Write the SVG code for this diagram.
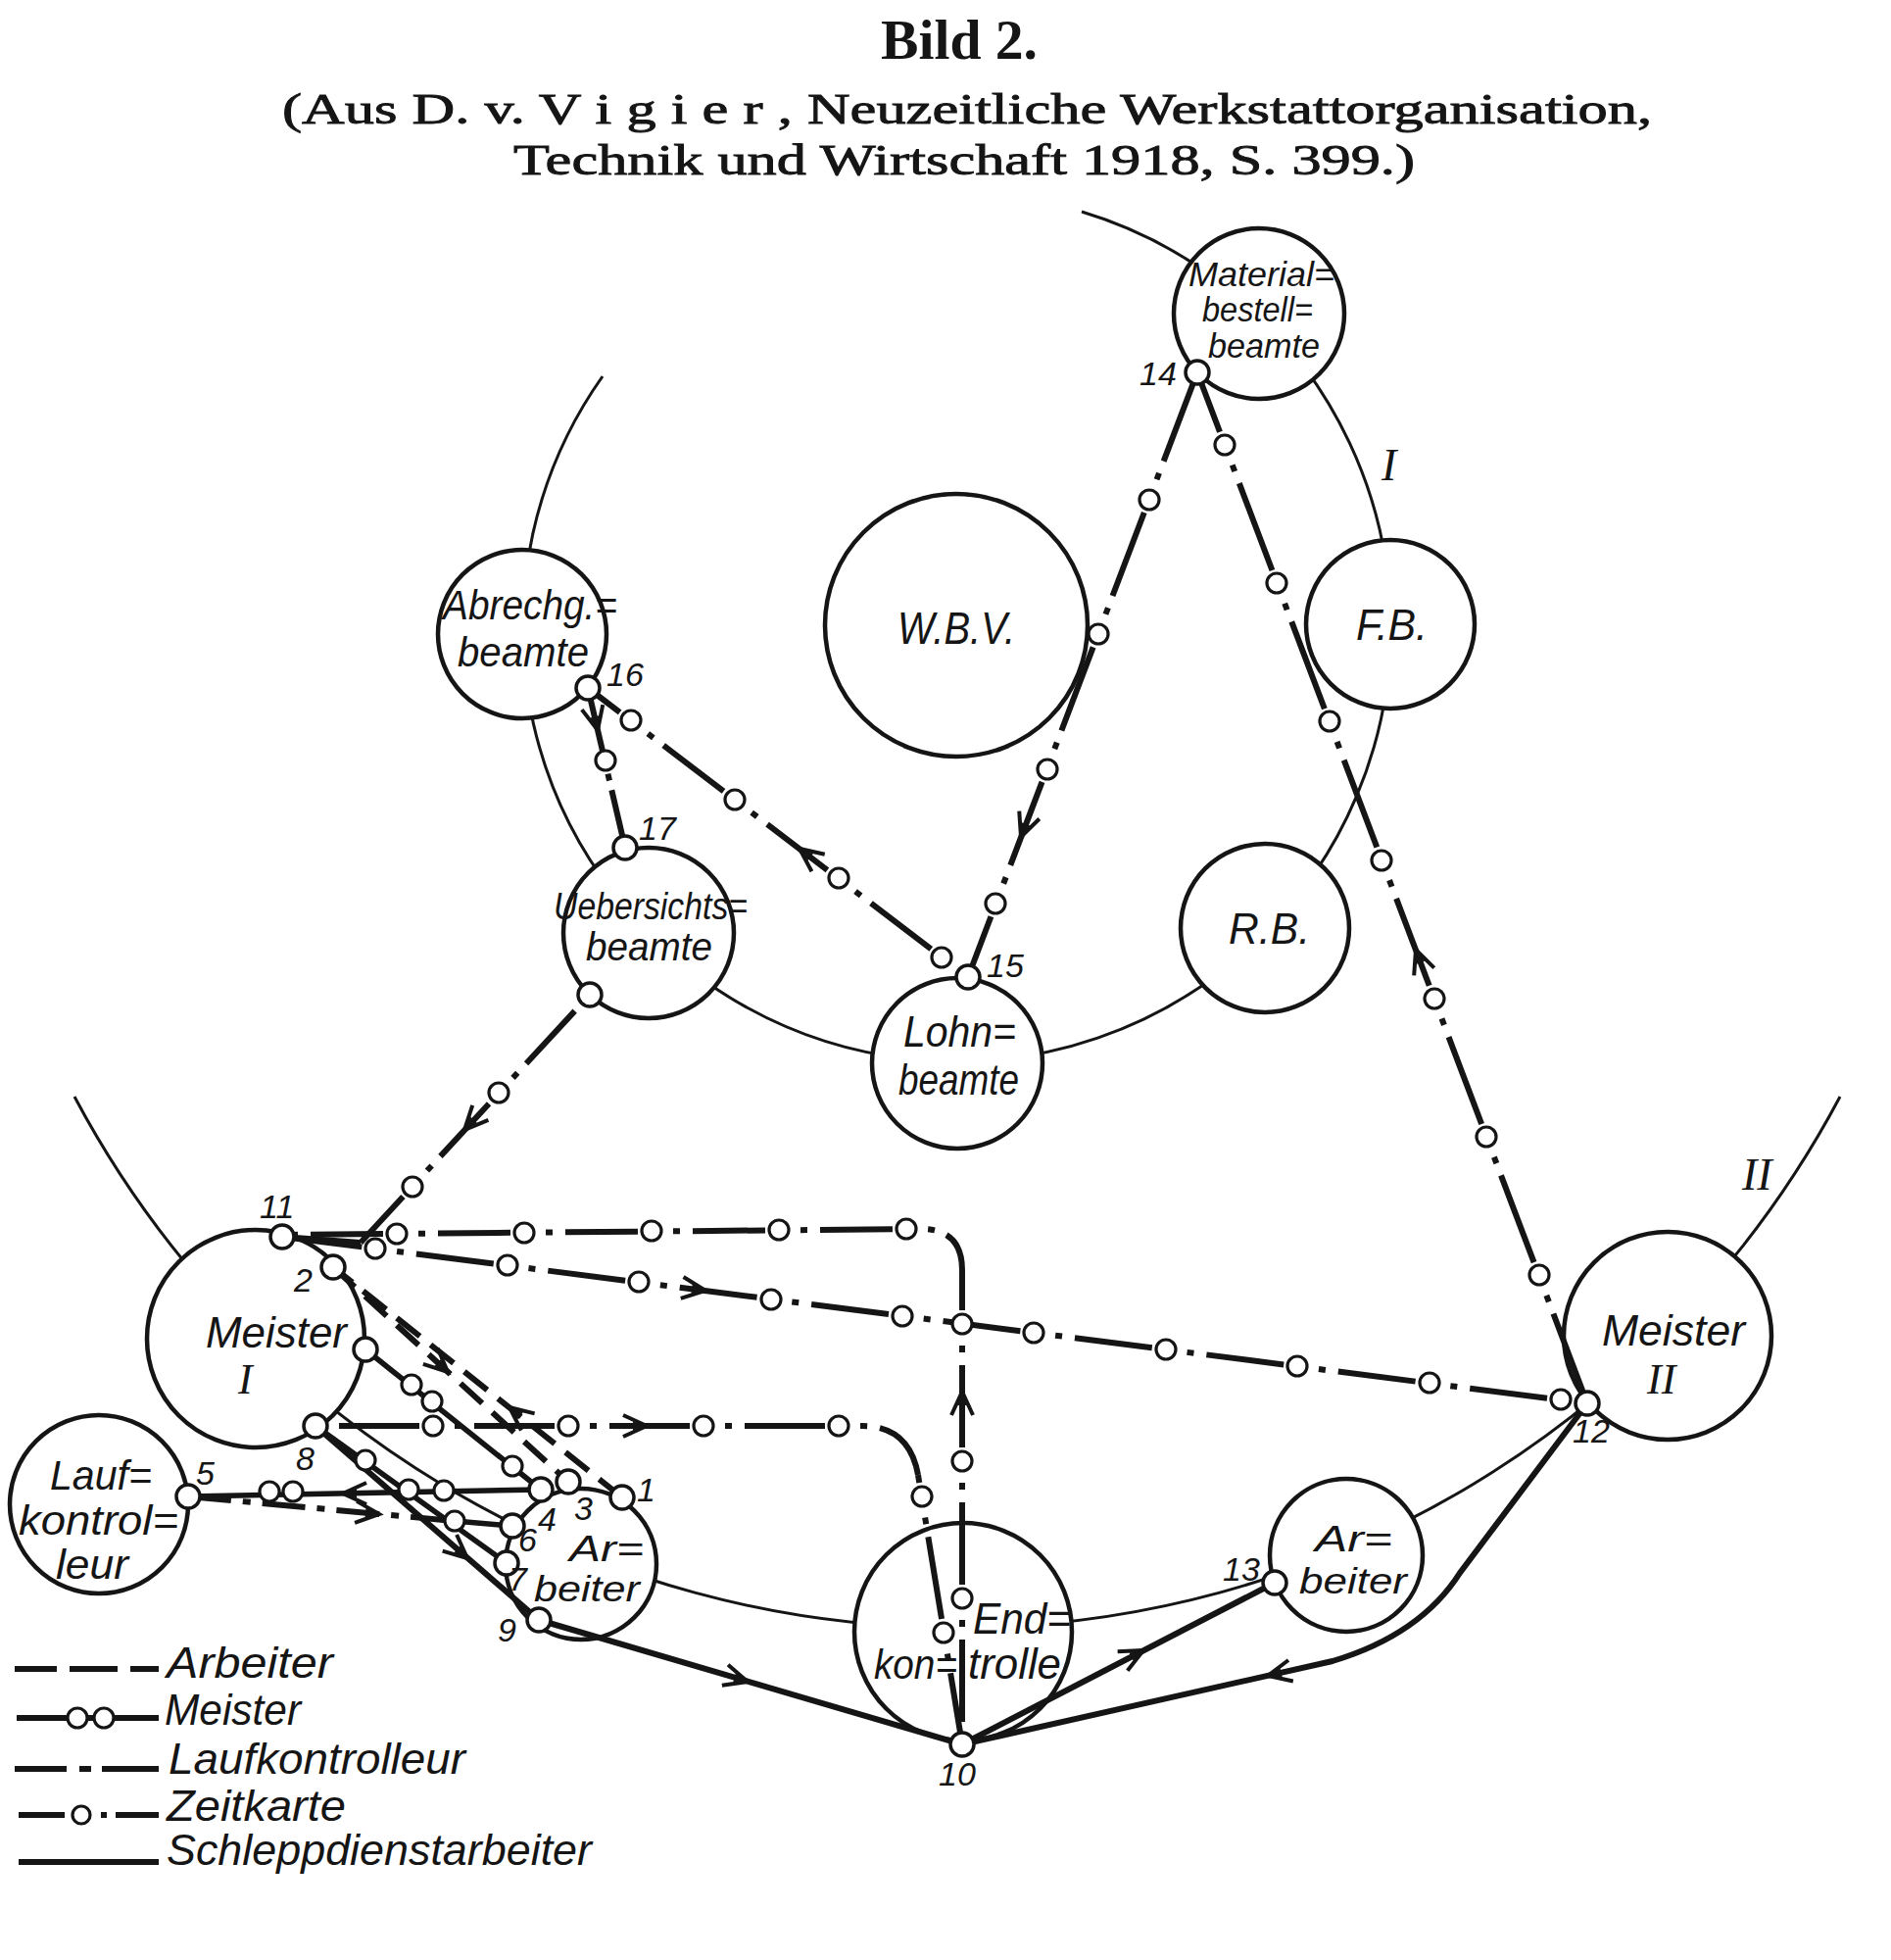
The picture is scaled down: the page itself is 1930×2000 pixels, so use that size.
<svg xmlns="http://www.w3.org/2000/svg" width="1930" height="2000" viewBox="0 0 1930 2000">
<style>
.ring{fill:none;stroke:#151515;stroke-width:3}
.node{fill:#fff;stroke:#151515;stroke-width:4.5}
.port{fill:#fff;stroke:#151515;stroke-width:3.5}
.pc{fill:#fff;stroke:#151515;stroke-width:3.2}
.ln{fill:none;stroke:#151515;stroke-width:6;stroke-linecap:butt;stroke-linejoin:round}
.sd{stroke-width:5.5}
.arb{stroke-dasharray:30 14}
.lk{stroke-dasharray:44 12 8 12}
.t{font-family:"Liberation Sans",Arial,sans-serif;font-style:italic;fill:#151515}
.num{font-size:34px}
.leg{font-size:44px}
.rom{font-family:"Liberation Serif","Times New Roman",serif;font-style:italic;fill:#151515}
.title{font-family:"Liberation Serif","Times New Roman",serif;fill:#151515}
</style>
<defs>
<g id="ah"><path d="M -24 -11 L 0 0 L -24 11" fill="none" stroke="#151515" stroke-width="4"/><path d="M -14 -4.5 L 0 0 L -14 4.5 Z" fill="#151515"/></g>
</defs>
<rect width="1930" height="2000" fill="#fff"/>

<g id="title">
<text class="title" x="899" y="60" font-size="58" font-weight="bold" textLength="160" lengthAdjust="spacingAndGlyphs">Bild 2.</text>
<text class="title" x="288" y="126" font-size="45" stroke="#151515" stroke-width="0.9" textLength="1398" lengthAdjust="spacingAndGlyphs">(Aus D. v. V i g i e r , Neuzeitliche Werkstattorganisation,</text>
<text class="title" x="524" y="178" font-size="45" stroke="#151515" stroke-width="0.9" textLength="920" lengthAdjust="spacingAndGlyphs">Technik und Wirtschaft 1918, S. 399.)</text>
</g>

<g id="rings">
<path class="ring" d="M 615 384 A 443 443 0 1 0 1104 216"/>
<path class="ring" d="M 76 1119 A 1020 1020 0 0 0 1878 1119"/>
<text class="rom" x="1410" y="490" font-size="46">I</text>
<text class="rom" x="1778" y="1214" font-size="46">II</text>
</g>

<g id="n-material"><circle class="node" cx="1285" cy="320" r="87"/></g>
<g id="n-fb"><circle class="node" cx="1419" cy="637" r="86"/></g>
<g id="n-rb"><circle class="node" cx="1291" cy="947" r="86"/></g>
<g id="n-lohn"><circle class="node" cx="977" cy="1085" r="87"/></g>
<g id="n-uebersichts"><circle class="node" cx="662" cy="952" r="87"/></g>
<g id="n-abrechg"><circle class="node" cx="533" cy="647" r="86"/></g>
<g id="n-wbv"><circle class="node" cx="976" cy="638" r="134"/></g>
<g id="n-meister1"><circle class="node" cx="261" cy="1366" r="111"/></g>
<g id="n-meister2"><circle class="node" cx="1702" cy="1363" r="106"/></g>
<g id="n-lauf"><circle class="node" cx="101" cy="1535" r="91"/></g>
<g id="n-arbeiter1"><circle class="node" cx="593" cy="1596" r="77"/></g>
<g id="n-arbeiter2"><circle class="node" cx="1374" cy="1587" r="78"/></g>
<g id="n-endkontrolle"><circle class="node" cx="983" cy="1665" r="111"/></g>

<g id="connectors">
<path class="ln" d="M 1222 380 L 1620 1432" style="stroke-dasharray:0 22 7 13 95 14;stroke-dashoffset:72"/>
<path class="ln" d="M 988 997 L 1222 380" style="stroke-dasharray:0 22 7 13 91 14;stroke-dashoffset:67"/>
<path class="ln" d="M 600 702 L 988 997" style="stroke-dasharray:0 22 7 13 77 14;stroke-dashoffset:78"/>
<path class="ln" d="M 600 702 L 638 865" style="stroke-dasharray:66 24 7 10 80"/>
<path class="ln" d="M 368 1268 L 602 1015" style="stroke-dasharray:0 22 7 13 73 14;stroke-dashoffset:51"/>
<path class="ln" d="M 288 1262 L 368 1268"/>
<path class="ln" d="M 288 1260 L 940 1254 Q 982 1254 982 1296" style="stroke-dasharray:0 22 7 13 74 14;stroke-dashoffset:13"/>
<path class="ln" d="M 982 1296 L 982 1780" style="stroke-dasharray:0 22 7 13 84 14;stroke-dashoffset:85"/>
<path class="ln" d="M 288 1262 L 1620 1432" style="stroke-dasharray:0 22 7 13 79.5 14;stroke-dashoffset:39.5"/>
<path class="ln" d="M 322 1455 L 880 1455 Q 928 1455 937 1505" style="stroke-dasharray:0 22 7 13 82 14;stroke-dashoffset:18"/>
<path class="ln" d="M 937 1505 L 982 1780" style="stroke-dasharray:0 22 7 13 85 14;stroke-dashoffset:119"/>
<path class="ln sd" d="M 192 1527 L 552 1520"/>
<path class="ln sd" d="M 373 1377 L 552 1520"/>
<path class="ln sd" d="M 322 1455 L 517 1595"/>
<path class="ln lk" d="M 192 1527 L 464 1552"/>
<path class="ln sd" d="M 464 1552 L 523 1557"/>
<path class="ln arb" d="M 340 1293 L 580 1512"/>
<path class="ln arb" d="M 635 1528 L 340 1293"/>
<path class="ln" d="M 322 1455 L 550 1653"/>
<path class="ln" d="M 550 1653 L 982 1780"/>
<path class="ln" d="M 982 1780 L 1301 1615"/>
<path class="ln" d="M 1620 1432 L 1490 1605 Q 1450 1668 1360 1695 L 982 1780"/>

<g class="pc">
<circle cx="1250" cy="454" r="10"/><circle cx="1303" cy="595" r="10"/><circle cx="1357" cy="736" r="10"/><circle cx="1410" cy="878" r="10"/><circle cx="1464" cy="1019" r="10"/><circle cx="1517" cy="1160" r="10"/><circle cx="1571" cy="1301" r="10"/>
<circle cx="1016" cy="922" r="10"/><circle cx="1069" cy="785" r="10"/><circle cx="1121" cy="647" r="10"/><circle cx="1173" cy="510" r="10"/>
<circle cx="644" cy="735" r="10"/><circle cx="750" cy="816" r="10"/><circle cx="856" cy="896" r="10"/><circle cx="961" cy="977" r="10"/>
<circle cx="618" cy="776" r="10"/>
<circle cx="421" cy="1211" r="10"/><circle cx="509" cy="1115" r="10"/>
<circle cx="405" cy="1259" r="10"/><circle cx="535" cy="1258" r="10"/><circle cx="665" cy="1256" r="10"/><circle cx="795" cy="1255" r="10"/><circle cx="925" cy="1254" r="10"/>
<circle cx="982" cy="1351" r="10"/><circle cx="982" cy="1491" r="10"/><circle cx="982" cy="1631" r="10"/>
<circle cx="383" cy="1274" r="10"/><circle cx="518" cy="1291" r="10"/><circle cx="652" cy="1308" r="10"/><circle cx="787" cy="1326" r="10"/><circle cx="921" cy="1343" r="10"/><circle cx="1055" cy="1360" r="10"/><circle cx="1190" cy="1377" r="10"/><circle cx="1324" cy="1394" r="10"/><circle cx="1459" cy="1411" r="10"/><circle cx="1593" cy="1428" r="10"/>
<circle cx="442" cy="1455" r="10"/><circle cx="580" cy="1455" r="10"/><circle cx="718" cy="1455" r="10"/><circle cx="856" cy="1455" r="10"/><circle cx="941" cy="1527" r="10"/><circle cx="963" cy="1666" r="10"/>
<circle cx="275" cy="1522" r="10"/><circle cx="299" cy="1522" r="10"/><circle cx="453" cy="1521" r="10"/>
<circle cx="420" cy="1413" r="10"/><circle cx="441" cy="1430" r="10"/><circle cx="523" cy="1496" r="10"/>
<circle cx="373" cy="1490" r="10"/><circle cx="417" cy="1520" r="10"/>
<circle cx="464" cy="1552" r="10"/>
</g>

<use href="#ah" transform="translate(1445,969) rotate(-110.7)"/>
<use href="#ah" transform="translate(1042,854) rotate(110.8)"/>
<use href="#ah" transform="translate(816,866) rotate(-142.8)"/>
<use href="#ah" transform="translate(610,745) rotate(76.9)"/>
<use href="#ah" transform="translate(474,1153) rotate(132.8)"/>
<use href="#ah" transform="translate(982,1420) rotate(-90)"/>
<use href="#ah" transform="translate(720,1317) rotate(7.3)"/>
<use href="#ah" transform="translate(660,1455) rotate(0)"/>
<use href="#ah" transform="translate(350,1524) rotate(180)"/>
<use href="#ah" transform="translate(387,1545) rotate(5.2)"/>
<use href="#ah" transform="translate(457,1400) rotate(42.4)"/>
<use href="#ah" transform="translate(520,1436) rotate(218.5)"/>
<use href="#ah" transform="translate(477,1590) rotate(41)"/>
<use href="#ah" transform="translate(763,1716) rotate(16.4)"/>
<use href="#ah" transform="translate(1167,1684) rotate(-27.35)"/>
<use href="#ah" transform="translate(1294,1710) rotate(167.3)"/>
</g>

<g id="ports" class="port">
<circle cx="1222" cy="380" r="12"/>
<circle cx="600" cy="702" r="12"/>
<circle cx="638" cy="865" r="12"/>
<circle cx="988" cy="997" r="12"/>
<circle cx="602" cy="1015" r="12"/>
<circle cx="288" cy="1262" r="12"/>
<circle cx="340" cy="1293" r="12"/>
<circle cx="373" cy="1377" r="12"/>
<circle cx="322" cy="1455" r="12"/>
<circle cx="192" cy="1527" r="12"/>
<circle cx="635" cy="1528" r="12"/>
<circle cx="580" cy="1512" r="12"/>
<circle cx="552" cy="1520" r="12"/>
<circle cx="523" cy="1557" r="12"/>
<circle cx="517" cy="1595" r="12"/>
<circle cx="550" cy="1653" r="12"/>
<circle cx="982" cy="1780" r="12"/>
<circle cx="1620" cy="1432" r="12"/>
<circle cx="1301" cy="1615" r="12"/>
</g>

<g id="node-labels">
<text class="t" font-size="35" x="1213" y="292" textLength="149" lengthAdjust="spacingAndGlyphs">Material=</text>
<text class="t" font-size="35" x="1227" y="328" textLength="113" lengthAdjust="spacingAndGlyphs">bestell=</text>
<text class="t" font-size="35" x="1233" y="365" textLength="114" lengthAdjust="spacingAndGlyphs">beamte</text>
<text class="t" font-size="42" x="452" y="632" textLength="178" lengthAdjust="spacingAndGlyphs">Abrechg.=</text>
<text class="t" font-size="42" x="467" y="680" textLength="134" lengthAdjust="spacingAndGlyphs">beamte</text>
<text class="t" font-size="38" x="565" y="938" textLength="198" lengthAdjust="spacingAndGlyphs">Uebersichts=</text>
<text class="t" font-size="40" x="598" y="980" textLength="129" lengthAdjust="spacingAndGlyphs">beamte</text>
<text class="t" font-size="46" x="916" y="657" textLength="120" lengthAdjust="spacingAndGlyphs">W.B.V.</text>
<text class="t" font-size="44" x="1384" y="653" textLength="73" lengthAdjust="spacingAndGlyphs">F.B.</text>
<text class="t" font-size="44" x="1254" y="963" textLength="83" lengthAdjust="spacingAndGlyphs">R.B.</text>
<text class="t" font-size="44" x="922" y="1068" textLength="115" lengthAdjust="spacingAndGlyphs">Lohn=</text>
<text class="t" font-size="44" x="917" y="1117" textLength="123" lengthAdjust="spacingAndGlyphs">beamte</text>
<text class="t" font-size="44" x="210" y="1375" textLength="144" lengthAdjust="spacingAndGlyphs">Meister</text>
<text class="rom" font-size="44" x="243" y="1422">I</text>
<text class="t" font-size="44" x="1635" y="1373" textLength="146" lengthAdjust="spacingAndGlyphs">Meister</text>
<text class="rom" font-size="44" x="1681" y="1422">II</text>
<text class="t" font-size="43" x="51" y="1520" textLength="104" lengthAdjust="spacingAndGlyphs">Lauf=</text>
<text class="t" font-size="43" x="19" y="1566" textLength="163" lengthAdjust="spacingAndGlyphs">kontrol=</text>
<text class="t" font-size="43" x="57" y="1611" textLength="74" lengthAdjust="spacingAndGlyphs">leur</text>
<text class="t" font-size="36" x="581" y="1593" textLength="76" lengthAdjust="spacingAndGlyphs">Ar=</text>
<text class="t" font-size="36" x="545" y="1634" textLength="108" lengthAdjust="spacingAndGlyphs">beiter</text>
<text class="t" font-size="36" x="1342" y="1583" textLength="79" lengthAdjust="spacingAndGlyphs">Ar=</text>
<text class="t" font-size="36" x="1326" y="1626" textLength="110" lengthAdjust="spacingAndGlyphs">beiter</text>
<text class="t" font-size="44" x="993" y="1667" textLength="100" lengthAdjust="spacingAndGlyphs">End=</text>
<text class="t" font-size="42" x="892" y="1713" textLength="85" lengthAdjust="spacingAndGlyphs">kon=</text>
<text class="t" font-size="44" x="988" y="1713" textLength="95" lengthAdjust="spacingAndGlyphs">trolle</text>
</g>

<g id="port-numbers" class="t num">
<text x="1163" y="393">14</text>
<text x="619" y="700">16</text>
<text x="652" y="857">17</text>
<text x="1007" y="997">15</text>
<text x="265" y="1243">11</text>
<text x="300" y="1318">2</text>
<text x="302" y="1500">8</text>
<text x="200" y="1515">5</text>
<text x="650" y="1532">1</text>
<text x="586" y="1551">3</text>
<text x="549" y="1562">4</text>
<text x="529" y="1583">6</text>
<text x="519" y="1623">7</text>
<text x="508" y="1675">9</text>
<text x="958" y="1822">10</text>
<text x="1605" y="1472">12</text>
<text x="1248" y="1613">13</text>
</g>

<g id="legend">
<path class="ln" d="M 15 1703 H 58 M 71 1703 H 120 M 133 1703 H 162"/>
<path class="ln" d="M 17 1753 H 162"/>
<circle class="pc" cx="79" cy="1753" r="10"/><circle class="pc" cx="106" cy="1753" r="10"/>
<path class="ln" d="M 15 1805 H 68 M 81 1805 H 93 M 104 1805 H 162"/>
<path class="ln" d="M 19 1852 H 66 M 103 1852 H 109 M 118 1852 H 162"/>
<circle class="pc" cx="83" cy="1852" r="9"/>
<path class="ln" d="M 19 1900 H 162"/>
<text class="t leg" x="170" y="1712" textLength="170" lengthAdjust="spacingAndGlyphs">Arbeiter</text>
<text class="t leg" x="168" y="1760" textLength="139" lengthAdjust="spacingAndGlyphs">Meister</text>
<text class="t leg" x="172" y="1810" textLength="303" lengthAdjust="spacingAndGlyphs">Laufkontrolleur</text>
<text class="t leg" x="170" y="1858" textLength="183" lengthAdjust="spacingAndGlyphs">Zeitkarte</text>
<text class="t leg" x="170" y="1903" textLength="434" lengthAdjust="spacingAndGlyphs">Schleppdienstarbeiter</text>
</g>
</svg>
